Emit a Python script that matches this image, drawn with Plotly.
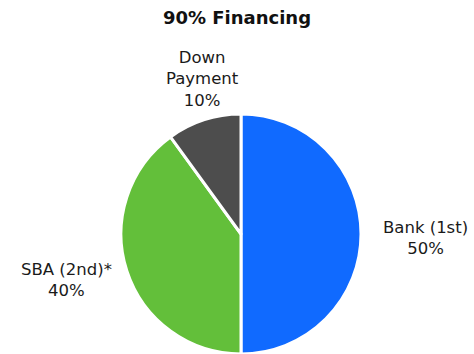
import plotly.graph_objects as go

labels = ["Bank (1st)", "SBA (2nd)*", "Down Payment"]
label_lines = ["Bank (1st)", "SBA (2nd)*", "Down<br>Payment"]
values = [50, 40, 10]
colors = ["#106AFF", "#63BF3A", "#4D4D4D"]
label_pos = [(425, 238), (66, 280), (202, 79)]  # pixel centres of the labels

W, H = 474, 354
FONT = "'DejaVu Sans', sans-serif"

fig = go.Figure(go.Pie(
    labels=labels, values=values, sort=False, direction="clockwise", rotation=0,
    marker=dict(colors=colors, line=dict(color="white", width=3)),
    textinfo="none", hoverinfo="label+percent", showlegend=False,
    domain=dict(x=[119 / W, 363 / W], y=[0, 240 / H]),
))

total = sum(values)
for lbl, v, (px, py) in zip(label_lines, values, label_pos):
    fig.add_annotation(
        x=px / W, y=1 - py / H, xref="paper", yref="paper",
        text=f"{lbl}<br>{round(100 * v / total)}%", showarrow=False,
        font=dict(family=FONT, size=16.5, color="#1a1a1a"), align="center",
        xanchor="center", yanchor="middle",
    )

fig.update_layout(
    width=W, height=H, margin=dict(l=0, r=0, t=0, b=0),
    paper_bgcolor="white", plot_bgcolor="white",
    title=dict(text="<b>90% Financing</b>", x=0.5, xanchor="center", y=1 - 18 / H, yanchor="middle",
               font=dict(family=FONT, size=18, color="#111")),
)
fig.write_html("out.html")
